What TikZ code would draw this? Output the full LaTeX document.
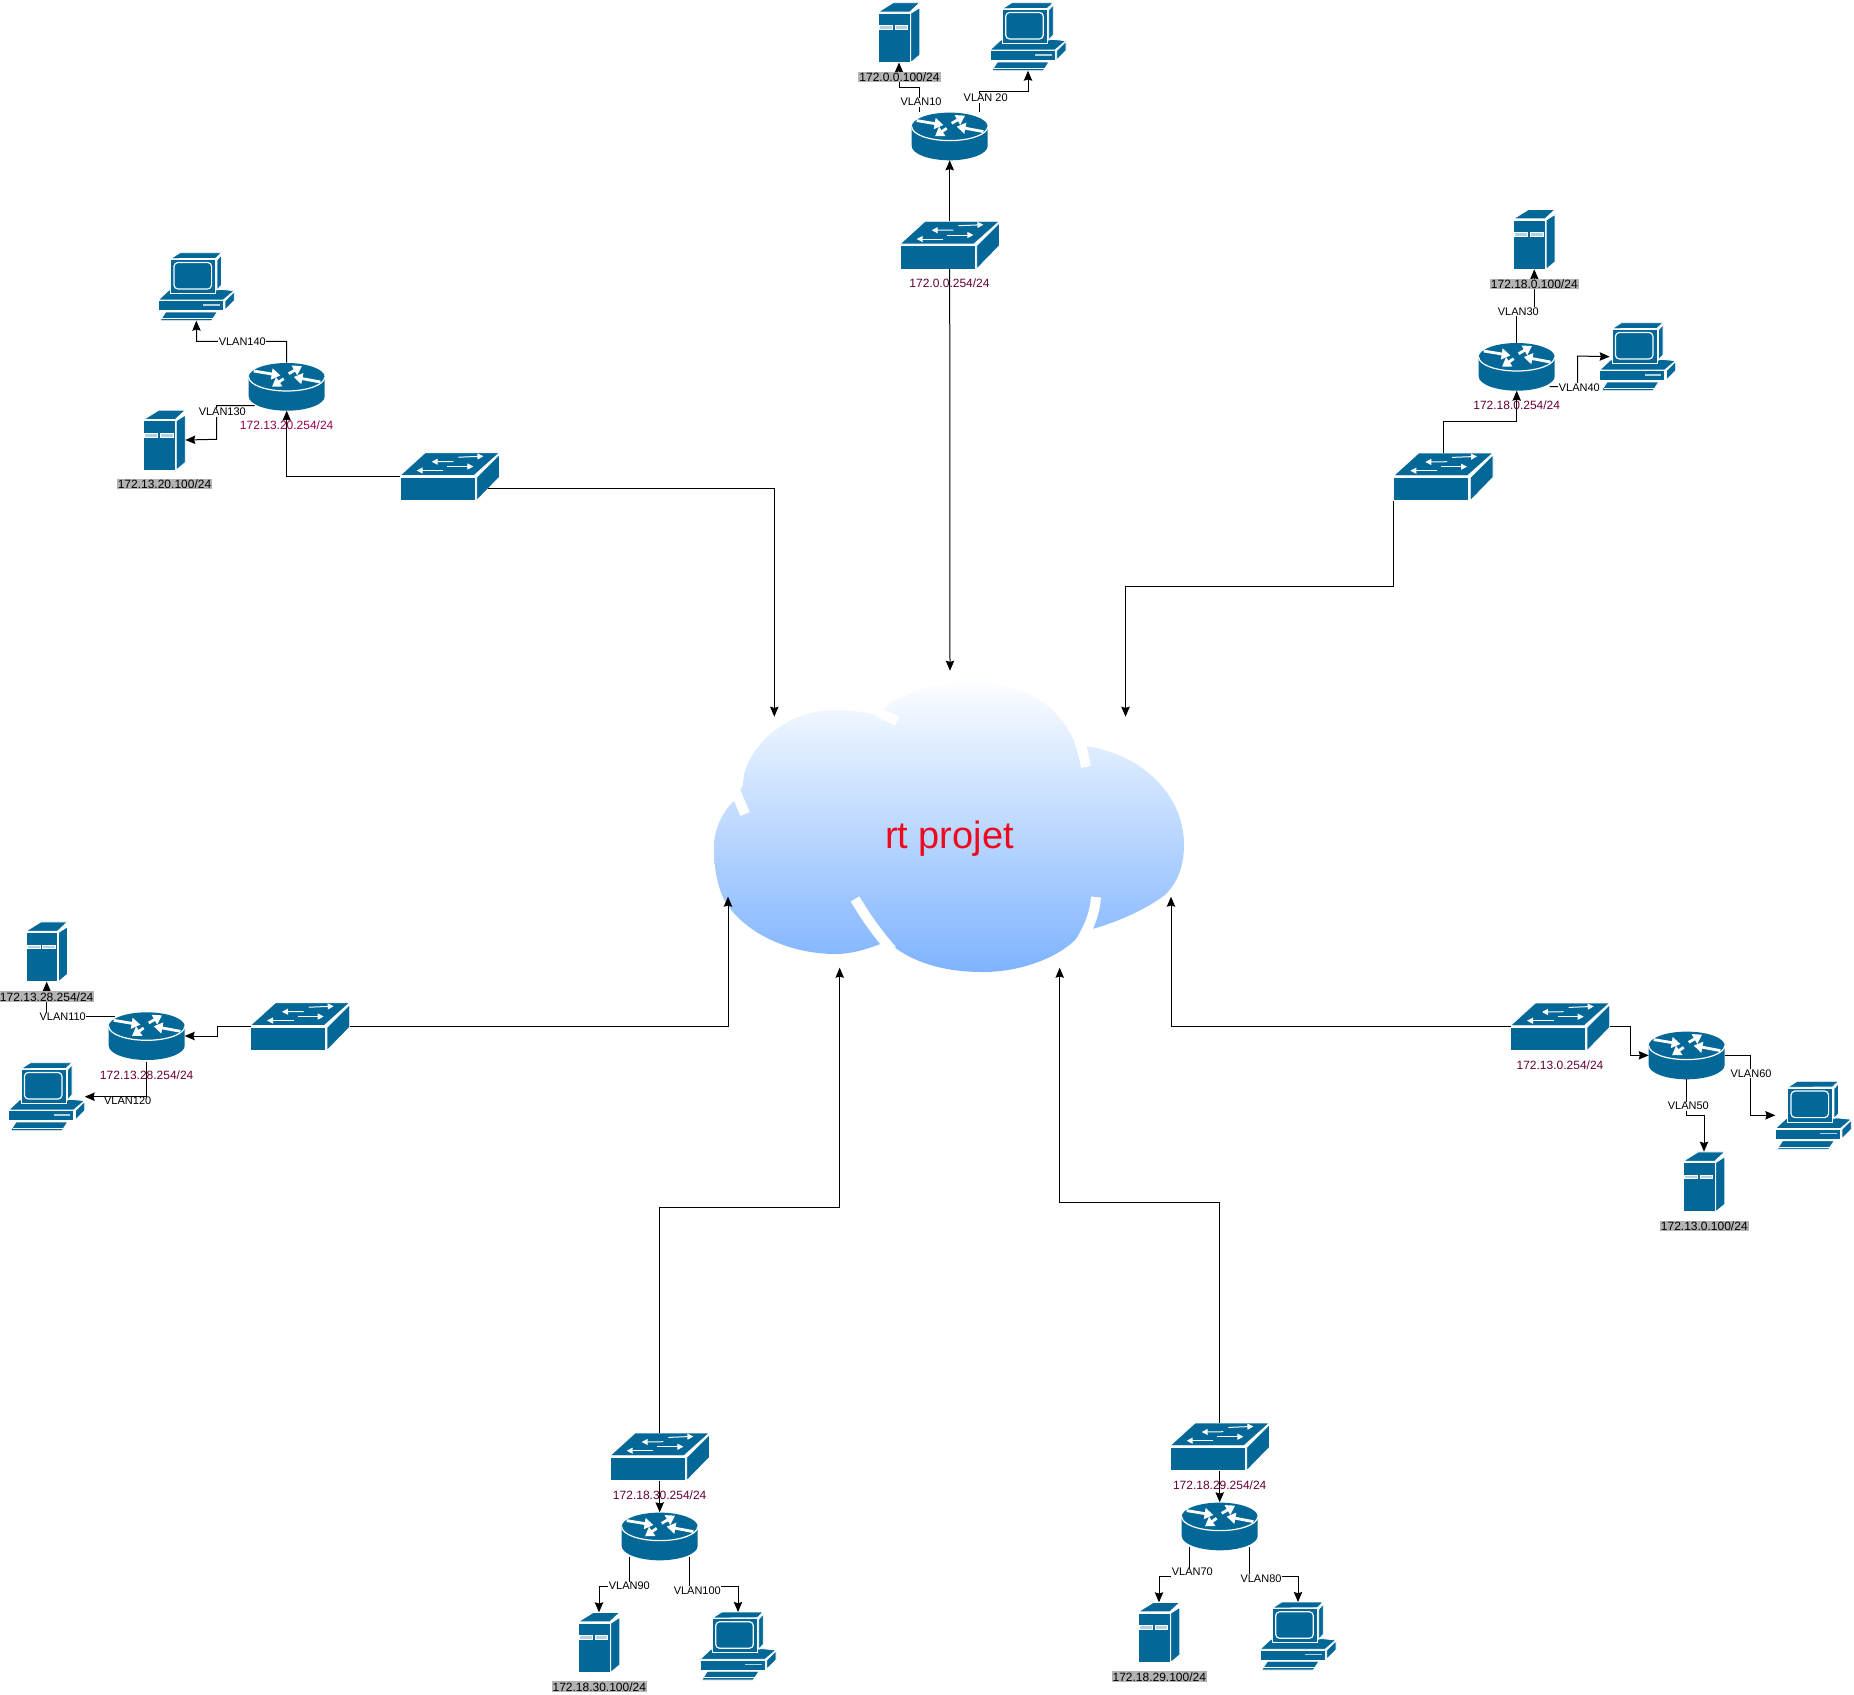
\documentclass[tikz,border=0pt]{standalone}
\usepackage{fontspec}
\setmainfont{Liberation Sans}
\usetikzlibrary{arrows.meta}
\definecolor{iconblue}{HTML}{036897}
\definecolor{bayfill}{HTML}{B5D2E0}
\definecolor{cloudtop}{HTML}{FBFDFF}
\definecolor{cloudbot}{HTML}{7EB3FF}
\definecolor{gwcolor}{HTML}{660033}
\definecolor{gwpink}{HTML}{99004D}
\definecolor{ipgrey}{HTML}{B3B3B3}
\definecolor{titlered}{HTML}{EC0A1C}
\tikzset{
  link/.style={draw=black,line width=.5pt,-{Stealth[length=5pt,width=4.2pt,inset=.6pt]}},
  iconpart/.style={fill=iconblue,draw=white,line width=.4pt},
  routerbox/.style={inner sep=0,outer sep=0,minimum width=38pt,minimum height=24pt},
  switchbox/.style={inner sep=0,outer sep=0,minimum width=49.5pt,minimum height=24pt},
  serverbox/.style={inner sep=0,outer sep=0,minimum width=20.8pt,minimum height=30pt},
  pcbox/.style={inner sep=0,outer sep=0,minimum width=38pt,minimum height=34pt},
  vlanlabel/.style={fill=white,inner sep=.3pt,font=\fontsize{5.5}{6.5}\selectfont},
  iplabel/.style={fill=ipgrey,inner sep=.5pt,font=\fontsize{6}{7}\selectfont},
  gwlabel/.style={inner sep=.5pt,text=gwcolor,font=\fontsize{6}{7}\selectfont},
  whitearrow/.style={draw=white,line width=1.4pt,-{Triangle[length=4.4pt,width=5.4pt]}},
  thinarrow/.style={draw=white,line width=.5pt,-{Triangle[length=3pt,width=3pt]}},
  gapline/.style={draw=white,line width=5pt},
  routerpic/.pic={
    \fill[iconblue] (-38,-9.7) .. controls (-38,-17.4) and (-21,-23.7) .. (0,-23.7)
      .. controls (21,-23.7) and (38,-17.4) .. (38,-9.7) -- (38,9.7)
      .. controls (38,17.4) and (21,24) .. (0,24) .. controls (-21,24) and (-38,17.4) .. (-38,9.7) -- cycle;
    \draw[white,line width=.6pt] (-38,-9.7) .. controls (-38,-2) and (-21,4.3) .. (0,4.3)
      .. controls (21,4.3) and (38,-2) .. (38,-9.7);
    \draw[whitearrow] (-33,-15.7) -- (-6.3,-11.3);
    \draw[whitearrow] (2,-13) -- (15.3,-20.7);
    \draw[whitearrow] (33.7,-4.7) -- (7,-9.7);
    \draw[whitearrow] (-3,-8) -- (-14.7,0);
  },
  switchpic/.pic={
    \filldraw[iconpart] (-49.7,-1) -- (-24.7,-23.7) -- (49.7,-23.7) -- (24.3,-1) -- cycle;
    \filldraw[iconpart] (-49.7,.7) rectangle (25.3,24);
    \filldraw[iconpart] (27,.7) -- (49.7,-22) -- (49.7,.7) -- (27,24) -- cycle;
    \draw[thinarrow] (3.7,-15) -- (-18,-14.7);
    \draw[thinarrow] (8.7,-19.3) -- (33.7,-20.3);
    \draw[thinarrow] (-6.3,-6) -- (-33,-6);
    \draw[thinarrow] (-2.3,-10) -- (23.7,-10);
  },
  serverpic/.pic={
    \filldraw[iconpart] (-20.8,-20.5) -- (-5.8,-29.8) -- (20.8,-29.8) -- (10.8,-20.5) -- cycle;
    \filldraw[iconpart] (-20.8,-19.2) rectangle (11,30);
    \filldraw[iconpart] (11.8,-19.2) -- (20.8,-25) -- (20.8,22.5) -- (11.8,30) -- cycle;
    \filldraw[fill=bayfill,draw=white,line width=.3pt] (-19.8,-6.8) rectangle (-6.8,-3.2);
    \filldraw[fill=bayfill,draw=white,line width=.3pt] (-4.2,-6.8) rectangle (8.5,-3.2);
  },
  pcpic/.pic={
    \filldraw[iconpart] (-27.3,3.3) -- (-38,13.3) -- (27,13.3) -- (38,4) -- (25.3,2.7) -- cycle;
    \filldraw[iconpart] (-38,14) rectangle (27,24);
    \filldraw[iconpart] (28.7,14) -- (38,4.7) -- (38,14) -- (28.7,23.3) -- cycle;
    \filldraw[iconpart] (-25.7,-28) -- (-16.3,-34) -- (25.3,-34) -- (19.3,-28.3) -- cycle;
    \filldraw[iconpart] (-25.7,-27.3) rectangle (19.3,6.7);
    \filldraw[iconpart] (20.7,-26.7) -- (25.3,-32) -- (25.3,-1.7) -- (20.7,3.3) -- cycle;
    \draw[white,line width=.6pt,rounded corners=2pt] (-22.3,-24.3) rectangle (15.3,2.3);
    \draw[bayfill,line width=.6pt] (7,18.3) -- (23.7,18.3);
    \filldraw[iconpart] (-36.3,34) -- (-30.7,25.3) -- (21,25.3) -- (15.3,34) -- cycle;
    \draw[white,line width=.3pt] (-34,31.5) -- (17,31.5);
  }
}
\begin{document}
\begin{tikzpicture}[x=.5pt,y=-.5pt]
  \useasboundingbox (0,0) rectangle (1854,1694);
  % cloud
  \path[top color=cloudtop,bottom color=cloudbot]
    (885,708) .. controls (905,690) and (940,683) .. (973,683)
    .. controls (1030,683) and (1060,708) .. (1076,745)
    -- (1085,746)
    .. controls (1135,752) and (1184,790) .. (1184,845)
    .. controls (1184,870) and (1175,885) .. (1165,895)
    .. controls (1145,910) and (1115,923) .. (1092,929)
    -- (1086,925)
    .. controls (1075,950) and (1030,972) .. (983,972)
    .. controls (945,972) and (910,963) .. (886,940)
    -- (883,943)
    .. controls (865,950) and (850,954) .. (836,954)
    .. controls (780,954) and (735,925) .. (722,895)
    .. controls (716,880) and (714,865) .. (714,847)
    .. controls (714,830) and (722,812) .. (734,801)
    -- (743,785)
    .. controls (743,750) and (785,710) .. (833,710)
    .. controls (850,710) and (868,712) .. (878,716) -- cycle;
  \draw[gapline] (897,721) -- (878,712);
  \draw[gapline] (1086,767) .. controls (1084,758) and (1083,750) .. (1079,741);
  \draw[gapline] (745,814) -- (735,790);
  \draw[gapline] (855,899) .. controls (866,917) and (876,932) .. (892,950);
  \draw[gapline] (1096,897) .. controls (1095,912) and (1090,928) .. (1075,950);
  \node[inner sep=0,text=titlered,font=\fontsize{19}{22}\selectfont] (cloud) at (949.5,839) {rt projet};
  \coordinate (cloudA) at (950,670.7);
  \coordinate (cloudB) at (1125.5,716.7);
  \coordinate (cloudC) at (1171,896.7);
  \coordinate (cloudD) at (1059.7,967.7);
  \coordinate (cloudE) at (839.7,967.7);
  \coordinate (cloudF) at (728,896.7);
  \coordinate (cloudG) at (774.3,716.7);
  % icons
  \foreach \name/\x/\y in {r1/949.7/136.3,r2/1516.7/366.7,r3/1686.7/1055.3,r4/1219.7/1526.3,r5/659.7/1536.3,r6/146.7/1036,r7/286.7/386.7}{
    \node[routerbox] (\name) at (\x,\y) {};
    \pic at (\x,\y) {routerpic};
  }
  \foreach \name/\x/\y in {sw1/949.7/245,sw2/1443.3/476.7,sw3/1560/1026.7,sw4/1219.7/1446.7,sw5/659.7/1456.7,sw6/300/1026.5,sw7/449.7/476.5}{
    \node[switchbox] (\name) at (\x,\y) {};
    \pic at (\x,\y) {switchpic};
  }
  \foreach \name/\x/\y in {srv1/899/32.5,srv2/1534.3/239.3,srv3/1704/1181.7,srv4/1159/1632.3,srv5/599/1642.3,srv6/46.7/951.7,srv7/164.5/440}{
    \node[serverbox] (\name) at (\x,\y) {};
    \pic at (\x,\y) {serverpic};
  }
  \foreach \name/\x/\y in {pc1/1028/36.7,pc2/1637.7/356.7,pc3/1813.3/1115.3,pc4/1298/1636,pc5/738/1646,pc6/46.7/1096.7,pc7/196.3/286.7}{
    \node[pcbox] (\name) at (\x,\y) {};
    \pic at (\x,\y) {pcpic};
  }
  % top
  \draw[link] (sw1.north) -- (r1.south);
  \draw[link] (sw1.south) -- (cloudA);
  \draw[link] ([shift={(-30,0)}]r1.north) |- (899,87) -- (srv1.south);
  \draw[link] ([shift={(30,0)}]r1.north) |- (1028,91) -- (pc1.south);
  % upper right
  \draw[link] (sw2.north) |- (1516.7,421.7) -- (r2.south);
  \draw[link] (sw2.south west) |- (1125.5,586.5) -- (cloudB);
  \draw[link] (r2.north) |- (1534.3,311.7) -- (srv2.south);
  \draw[link] ([shift={(-5,20)}]r2.east) -| (1577.7,356) -- ([shift={(10,0)}]pc2.west);
  % right
  \draw[link] (sw3.east) -| (1630,1055.3) -- (r3.west);
  \draw[link] (sw3.west) -| (cloudC);
  \draw[link] (r3.south) |- (1704,1115) -- (srv3.north);
  \draw[link] (r3.east) -| (1750,1115.3) -- (pc3.west);
  % bottom right
  \draw[link] (sw4.south) -- (r4.north);
  \draw[link] (sw4.north) |- (1059.7,1202.5) -- (cloudD);
  \draw[link] ([shift={(-30,-3)}]r4.south) |- (1159,1576.7) -- (srv4.north);
  \draw[link] ([shift={(30,-3)}]r4.south) |- (1298,1576.7) -- (pc4.north);
  % bottom left
  \draw[link] (sw5.south) -- (r5.north);
  \draw[link] (sw5.north) |- (839.7,1207) -- (cloudE);
  \draw[link] ([shift={(-30,-3)}]r5.south) |- (599,1586.7) -- (srv5.north);
  \draw[link] ([shift={(30,-3)}]r5.south) |- (738,1586.7) -- (pc5.north);
  % left
  \draw[link] (sw6.west) -| (217.3,1036) -- (r6.east);
  \draw[link] (sw6.east) -| (cloudF);
  \draw[link] ([shift={(6,-19.5)}]r6.west) -| (srv6.south);
  \draw[link] ([shift={(0,2)}]r6.south) |- (pc6.east);
  % upper left
  \draw[link] (sw7.west) -| (r7.south);
  \draw[link] ([shift={(-11,12)}]sw7.east) -| (cloudG);
  \draw[link] (r7.north) |- (196.7,341.3) -- (pc7.south);
  \draw[link] ([shift={(6,19)}]r7.west) -| (216.7,439.3) -- (srv7.east);
  % labels
  \node[iplabel] (ip1) at (899.5,77) {172.0.0.100/24};
  \node[gwlabel] (gw1) at (949.5,283.7) {172.0.0.254/24};
  \node[vlanlabel] (vlan10) at (921,102) {VLAN10};
  \node[vlanlabel] (vlan20) at (985.7,98) {VLAN 20};
  \node[iplabel] (ip2) at (1534.3,284) {172.18.0.100/24};
  \node[gwlabel] (gw2) at (1516.7,405) {172.18.0.254/24};
  \node[vlanlabel] (vlan30) at (1518.3,311.7) {VLAN30};
  \node[vlanlabel] (vlan40) at (1579.3,387.3) {VLAN40};
  \node[iplabel] (ip3) at (1704.3,1226) {172.13.0.100/24};
  \node[gwlabel] (gw3) at (1560,1064.7) {172.13.0.254/24};
  \node[vlanlabel] (vlan50) at (1688.3,1106) {VLAN50};
  \node[vlanlabel] (vlan60) at (1751,1073.3) {VLAN60};
  \node[iplabel] (ip4) at (1159.3,1676.7) {172.18.29.100/24};
  \node[gwlabel] (gw4) at (1219.7,1484.7) {172.18.29.254/24};
  \node[vlanlabel] (vlan70) at (1192.3,1572) {VLAN70};
  \node[vlanlabel] (vlan80) at (1261,1578.3) {VLAN80};
  \node[iplabel] (ip5) at (599.3,1686.7) {172.18.30.100/24};
  \node[gwlabel] (gw5) at (659.7,1494.7) {172.18.30.254/24};
  \node[vlanlabel] (vlan90) at (629.3,1586) {VLAN90};
  \node[vlanlabel] (vlan100) at (697.3,1590.7) {VLAN100};
  \node[iplabel] (ip6) at (46.7,996.7) {172.13.28.254/24};
  \node[gwlabel] (gw6) at (146.7,1074.7) {172.13.28.254/24};
  \node[vlanlabel] (vlan110) at (62.7,1017) {VLAN110};
  \node[vlanlabel] (vlan120) at (127.7,1101) {VLAN120};
  \node[iplabel] (ip7) at (164.5,484) {172.13.20.100/24};
  \node[gwlabel,text=gwpink] (gw7) at (286.7,425) {172.13.20.254/24};
  \node[vlanlabel] (vlan130) at (222.3,412) {VLAN130};
  \node[vlanlabel] (vlan140) at (242.3,341.3) {VLAN140};
\end{tikzpicture}
\end{document}
